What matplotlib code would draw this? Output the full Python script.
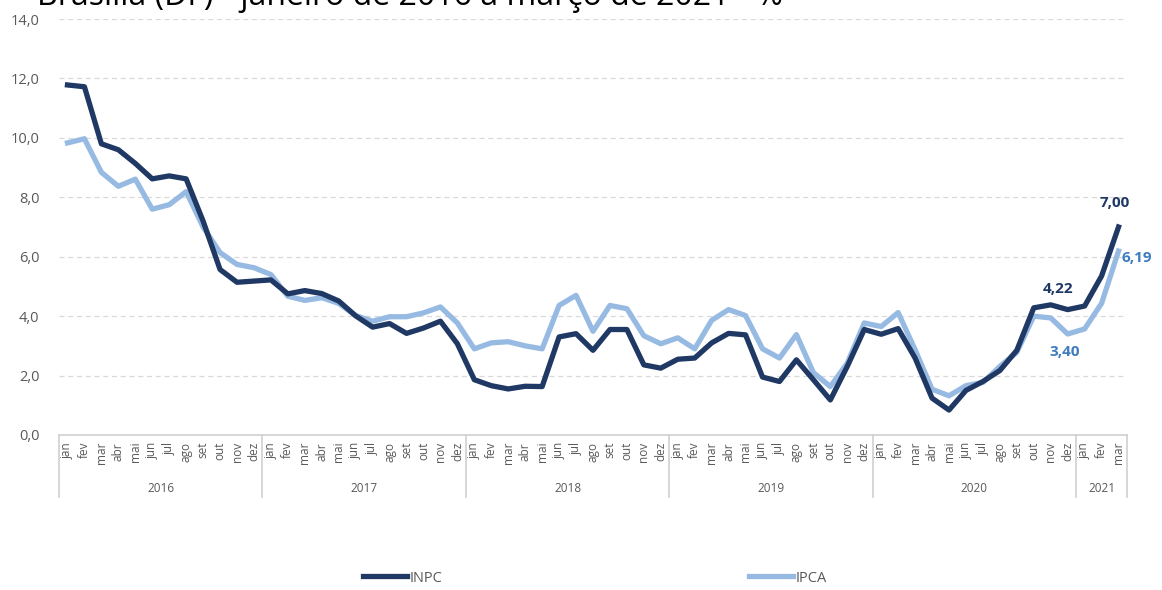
import matplotlib
matplotlib.use("Agg")
import matplotlib.pyplot as plt
from matplotlib.lines import Line2D

plt.rcParams['font.family'] = ['Open Sans', 'DejaVu Sans']

months = ["jan", "fev", "mar", "abr", "mai", "jun", "jul", "ago", "set", "out", "nov", "dez"]
years = ["2016", "2017", "2018", "2019", "2020", "2021"]
months_per_year = [12, 12, 12, 12, 12, 3]

inpc = [11.78, 11.72, 9.80, 9.60, 9.14, 8.62, 8.72, 8.62, 7.20, 5.57, 5.14, 5.18,
        5.22, 4.75, 4.86, 4.76, 4.51, 4.01, 3.63, 3.75, 3.42, 3.60, 3.83, 3.07,
        1.86, 1.66, 1.55, 1.64, 1.63, 3.30, 3.41, 2.85, 3.55, 3.55, 2.36, 2.25,
        2.55, 2.59, 3.10, 3.42, 3.37, 1.95, 1.80, 2.53, 1.86, 1.18, 2.31, 3.55,
        3.39, 3.58, 2.59, 1.24, 0.84, 1.50, 1.80, 2.17, 2.85, 4.28, 4.38, 4.22,
        4.34, 5.35, 7.00]
ipca = [9.83, 9.97, 8.84, 8.37, 8.61, 7.60, 7.75, 8.19, 7.00, 6.14, 5.74, 5.63,
        5.40, 4.67, 4.53, 4.62, 4.43, 4.02, 3.83, 3.98, 3.98, 4.11, 4.31, 3.77,
        2.90, 3.10, 3.14, 3.00, 2.90, 4.36, 4.70, 3.49, 4.36, 4.25, 3.34, 3.07,
        3.27, 2.90, 3.86, 4.22, 4.02, 2.90, 2.59, 3.38, 2.10, 1.63, 2.42, 3.77,
        3.65, 4.12, 2.87, 1.54, 1.32, 1.66, 1.77, 2.31, 2.78, 4.00, 3.94, 3.40,
        3.57, 4.43, 6.19]

dark = "#1f3864"
light = "#97bae3"
label_blue = "#3e7cc0"
gray = "#595959"

fig = plt.figure(figsize=(11.62, 5.90), dpi=100)
ax = fig.add_axes([59 / 1162, 1 - 435 / 590, (1127 - 59) / 1162, (435 - 19) / 590])

x = list(range(len(inpc)))
ax.plot(x, ipca, color=light, lw=3.8, solid_joinstyle="round", zorder=3)
ax.plot(x, inpc, color=dark, lw=3.8, solid_joinstyle="round", zorder=4)

ax.set_xlim(-0.5, len(inpc) - 0.5)
ax.set_ylim(0, 14)
ax.set_yticks([0, 2, 4, 6, 8, 10, 12, 14])
ax.set_yticklabels([f"{v:.1f}".replace(".", ",") for v in range(0, 16, 2)],
                   color=gray, fontsize=10.5)
ax.tick_params(axis="y", length=0, pad=14)
ax.yaxis.grid(True, color="#d9d9d9", linestyle=(0, (4, 3)), lw=0.9)
ax.set_axisbelow(True)

for side in ["left", "right", "top"]:
    ax.spines[side].set_visible(False)
ax.spines["bottom"].set_color("#d0d0d0")
ax.spines["bottom"].set_linewidth(1.2)

# Month labels on the first level of the category axis
month_labels = []
for n in months_per_year:
    month_labels += months[:n]
ax.set_xticks(x)
ax.set_xticklabels(month_labels, rotation=90, color=gray, fontsize=8.5)
ax.tick_params(axis="x", length=0, pad=5)

# Year level: separators and centered year labels
trans = ax.get_xaxis_transform()
start = 0
bounds = [-0.5]
for yr, n in zip(years, months_per_year):
    end = start + n
    bounds.append(end - 0.5)
    ax.text((start + end - 1) / 2, -53 / 416, yr, transform=trans, ha="center",
            va="center", color=gray, fontsize=8.5, clip_on=False)
    start = end
for b in bounds:
    ax.add_line(Line2D([b, b], [0, -62 / 416], transform=trans, color="#d0d0d0",
                       lw=1.2, clip_on=False))

# Value annotations
last = len(inpc) - 1
ax.annotate(f"{inpc[last]:.2f}".replace(".", ","), (last, inpc[last]),
            xytext=(-3, 12), textcoords="offset points", ha="center", va="bottom",
            color=dark, fontsize=11, fontweight="bold")
ax.annotate(f"{ipca[last]:.2f}".replace(".", ","), (last, ipca[last]),
            xytext=(2, -5), textcoords="offset points", ha="left", va="center",
            color=label_blue, fontsize=11, fontweight="bold")
ax.annotate(f"{inpc[59]:.2f}".replace(".", ","), (59, inpc[59]),
            xytext=(-7, 10), textcoords="offset points", ha="center", va="bottom",
            color=dark, fontsize=11, fontweight="bold")
ax.annotate(f"{ipca[59]:.2f}".replace(".", ","), (59, ipca[59]),
            xytext=(-2, -8), textcoords="offset points", ha="center", va="top",
            color=label_blue, fontsize=11, fontweight="bold")

# Legend
handles = [Line2D([], [], color=dark, lw=3.8), Line2D([], [], color=light, lw=3.8)]
fig.legend(handles, ["INPC", "IPCA"], loc="center", bbox_to_anchor=(0.512, 1 - 578 / 590),
           ncol=2, frameon=False, fontsize=10.5, labelcolor=gray, columnspacing=21.0,
           handlelength=3.0, handletextpad=0.2)

# Title, clipped at the top edge of the figure
fig.text(37 / 1162, 1 - 5 / 590, "Brasília (DF) - janeiro de 2016 a março de 2021 - %",
         ha="left", va="baseline", fontsize=23, color="black")

fig.savefig("out.png", dpi=100)
